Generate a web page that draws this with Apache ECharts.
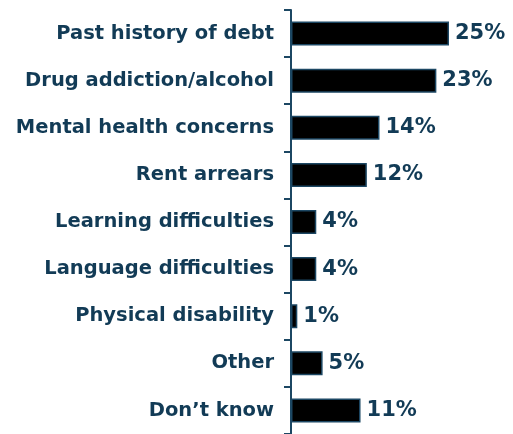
<!DOCTYPE html>
<html>
<head>
<meta charset="utf-8">
<script src="https://cdn.jsdelivr.net/npm/echarts@6/dist/echarts.min.js"></script>
<style>
  html, body { margin: 0; padding: 0; background: #ffffff; }
  #chart { width: 513px; height: 434px; }
</style>
</head>
<body>
<div id="chart"></div>
<script>
// Reasons reported, top to bottom
const categories = [
  'Past history of debt',
  'Drug addiction/alcohol',
  'Mental health concerns',
  'Rent arrears',
  'Learning difficulties',
  'Language difficulties',
  'Physical disability',
  'Other',
  'Don\u2019t know'
];
// Share of respondents, percent
const values = [25, 23, 14, 12, 4, 4, 1, 5, 11];

const navy = '#123b56';
const axisColor = '#1c4763';

const chart = echarts.init(document.getElementById('chart'));
chart.setOption({
  animation: false,
  backgroundColor: '#ffffff',
  grid: { left: 291, top: 10, width: 158, height: 428 },
  xAxis: {
    type: 'value',
    min: 0,
    max: 25,
    show: false
  },
  yAxis: {
    type: 'category',
    data: categories,
    inverse: true,
    axisLine: { show: true, lineStyle: { color: axisColor, width: 2 } },
    axisTick: { show: true, length: 7, lineStyle: { color: axisColor, width: 2 } },
    axisLabel: {
      color: navy,
      fontFamily: 'DejaVu Sans',
      fontWeight: 'bold',
      fontSize: 19.5,
      margin: 17
    },
    splitLine: { show: false }
  },
  series: [{
    type: 'bar',
    data: values,
    barWidth: 24,
    itemStyle: { color: '#000000', borderColor: axisColor, borderWidth: 1.5 },
    label: {
      show: true,
      position: 'right',
      distance: 6,
      formatter: '{c}%',
      color: navy,
      fontFamily: 'DejaVu Sans',
      fontWeight: 'bold',
      fontSize: 21
    }
  }]
});
</script>
</body>
</html>
